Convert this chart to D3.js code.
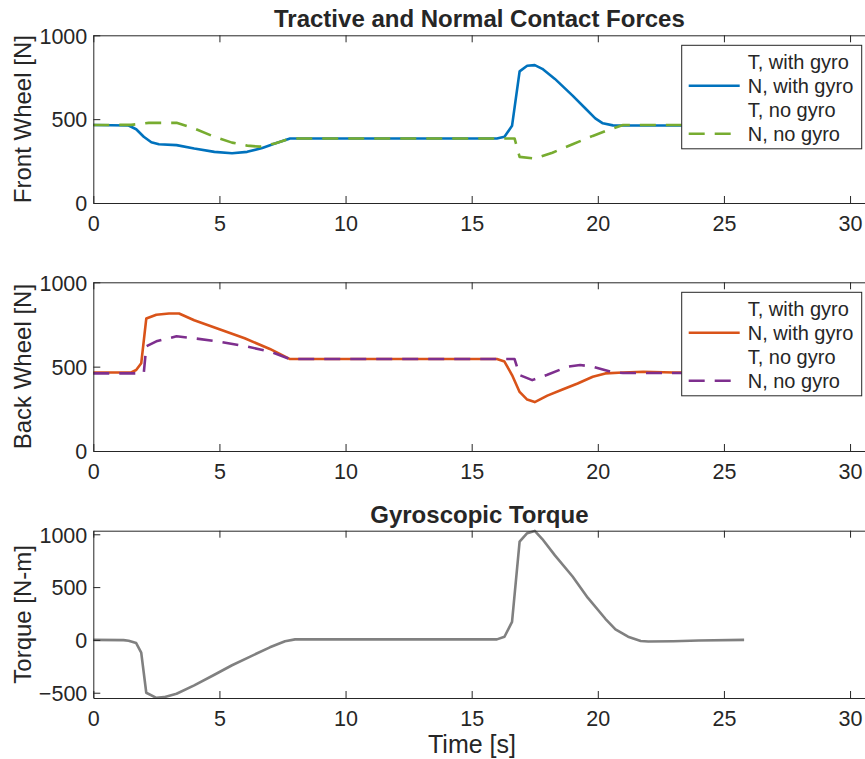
<!DOCTYPE html>
<html>
<head>
<meta charset="utf-8">
<script src="https://cdn.jsdelivr.net/npm/d3@7"></script>
<style>
  body { margin: 0; background: #fff; }
  text { font-family: "Liberation Sans", Arial, sans-serif; fill: #262626; }
</style>
</head>
<body>
<div id="chart"></div>
<script>
// ---- data ----
var xTicks = [0, 5, 10, 15, 20, 25, 30];
var forceTicks = [0, 500, 1000];
var torqueTicks = [-500, 0, 500, 1000];
var legendLabels = ["T, with gyro", "N, with gyro", "T, no gyro", "N, no gyro"];

// front wheel, N with gyro
var tFrontGyro = [0, 1.4, 1.7, 2.0, 2.3, 2.6, 3.3, 4.0, 4.8, 5.5, 6.1, 6.7, 7.2, 7.8, 16.0, 16.3, 16.6, 16.9, 17.2, 17.5, 17.8, 18.3, 19.0, 19.5, 19.9, 20.2, 20.6, 21.5, 23.0, 25.8];
var nFrontGyro = [465, 462, 440, 395, 362, 350, 345, 325, 305, 297, 305, 328, 355, 385, 385, 395, 460, 785, 818, 822, 800, 740, 640, 565, 505, 475, 463, 462, 462, 463];
// front wheel, N no gyro
var tFrontNo = [0, 1.5, 2.2, 3.3, 4.0, 4.8, 5.5, 6.1, 6.6, 7.2, 7.8, 16.7, 16.9, 17.5, 18.2, 19.0, 19.8, 20.5, 21.0, 25.8];
var nFrontNo = [465, 466, 478, 478, 445, 395, 360, 342, 336, 355, 385, 385, 275, 265, 300, 350, 400, 440, 465, 465];
// back wheel, N with gyro
var tBackGyro = [0, 1.5, 1.7, 1.9, 2.1, 2.5, 3.0, 3.4, 4.0, 5.0, 6.0, 7.0, 7.8, 16.0, 16.3, 16.6, 16.9, 17.2, 17.5, 18.0, 18.6, 19.2, 19.8, 20.3, 21.0, 21.8, 23.0, 25.8];
var nBackGyro = [465, 466, 480, 520, 785, 808, 815, 815, 775, 722, 668, 605, 545, 545, 530, 450, 350, 305, 290, 328, 365, 400, 440, 460, 465, 470, 465, 465];
// back wheel, N no gyro
var tBackNo = [0, 2.0, 2.1, 2.5, 3.3, 4.0, 5.0, 6.0, 7.0, 7.8, 16.7, 16.9, 17.4, 18.0, 18.8, 19.3, 19.8, 20.5, 21.0, 25.8];
var nBackNo = [460, 460, 620, 650, 680, 668, 648, 622, 590, 545, 545, 450, 420, 452, 500, 510, 500, 470, 462, 462];
// gyroscopic torque
var tTorque = [0, 1.2, 1.4, 1.7, 1.9, 2.1, 2.5, 2.8, 3.3, 4.0, 4.8, 5.5, 6.2, 7.0, 7.6, 8.0, 16.0, 16.3, 16.6, 16.9, 17.2, 17.5, 17.8, 18.3, 19.0, 19.6, 20.3, 20.7, 21.2, 21.7, 22.0, 23.0, 24.0, 25.8];
var torque = [0, -2, -8, -30, -120, -500, -548, -542, -510, -430, -330, -240, -160, -70, -12, 5, 5, 30, 170, 930, 1010, 1032, 955, 800, 600, 400, 200, 100, 30, -10, -15, -12, -5, 0];

var width = 865, height = 759;
var svg = d3.select("#chart").append("svg")
    .attr("width", width)
    .attr("height", height);

var x = d3.scaleLinear().domain([0, 30.85]).range([93.3, 871.5]);

var panels = [
  {top: 35.3, bottom: 203, domain: [0, 1000], ticks: forceTicks, ylabel: "Front Wheel [N]",
   title: "Tractive and Normal Contact Forces",
   series: [
     {t: tFrontGyro, v: nFrontGyro, color: "#0072BD", dash: null},
     {t: tFrontNo, v: nFrontNo, color: "#77AC30", dash: "16,10"}
   ], legend: true},
  {top: 282.3, bottom: 451, domain: [0, 1000], ticks: forceTicks, ylabel: "Back Wheel [N]",
   series: [
     {t: tBackGyro, v: nBackGyro, color: "#D95319", dash: null},
     {t: tBackNo, v: nBackNo, color: "#7E2F8E", dash: "16,10"}
   ], legend: true},
  {top: 530.7, bottom: 698, domain: [-550, 1034], ticks: torqueTicks, ylabel: "Torque [N-m]",
   title: "Gyroscopic Torque",
   series: [
     {t: tTorque, v: torque, color: "#808080", dash: null}
   ], legend: false}
];

var axisColor = "#262626";
var fontSize = 21.5;

panels.forEach(function(p, pi) {
  var y = d3.scaleLinear().domain(p.domain).range([p.bottom, p.top]);
  var g = svg.append("g");

  // data lines
  var line = d3.line()
      .x(function(d) { return x(d[0]); })
      .y(function(d) { return y(d[1]); });

  p.series.forEach(function(s) {
    g.append("path")
      .datum(d3.zip(s.t, s.v))
      .attr("d", line)
      .attr("fill", "none")
      .attr("stroke", s.color)
      .attr("stroke-width", 2.6)
      .attr("stroke-linejoin", "round")
      .attr("stroke-dasharray", s.dash);
  });

  // bottom axis with inward ticks
  var xAxis = g.append("g")
      .attr("transform", "translate(0," + p.bottom + ")")
      .call(d3.axisBottom(x).tickValues(xTicks).tickSizeInner(-7).tickSizeOuter(0).tickPadding(13).tickFormat(d3.format("d")));
  // top axis ticks
  var xTop = g.append("g")
      .attr("transform", "translate(0," + p.top + ")")
      .call(d3.axisTop(x).tickValues(xTicks).tickSizeInner(-7).tickSizeOuter(0).tickFormat(""));
  // left axis
  var yAxis = g.append("g")
      .attr("transform", "translate(" + x(0) + ",0)")
      .call(d3.axisLeft(y).tickValues(p.ticks).tickSizeInner(-7).tickSizeOuter(0).tickPadding(6).tickFormat(d3.format("d")));

  [xAxis, xTop, yAxis].forEach(function(a) {
    a.selectAll(".domain").attr("stroke", axisColor);
    a.selectAll(".tick line").attr("stroke", axisColor);
    a.selectAll("text")
      .attr("font-family", "Liberation Sans, Arial, sans-serif")
      .attr("font-size", fontSize)
      .attr("fill", axisColor);
  });
  yAxis.selectAll("text").attr("dy", "0.36em");

  // y label
  svg.append("text")
    .attr("transform", "translate(31," + ((p.top + p.bottom) / 2) + ") rotate(-90)")
    .attr("text-anchor", "middle")
    .attr("font-size", 24)
    .text(p.ylabel);

  if (p.title) {
    svg.append("text")
      .attr("x", (x.range()[0] + x.range()[1]) / 2 - 3)
      .attr("y", p.top - 8)
      .attr("text-anchor", "middle")
      .attr("font-size", 24)
      .attr("font-weight", "bold")
      .attr("fill", "#000")
      .text(p.title);
  }

  if (p.legend) {
    var lx = 681.7, ly = p.top + 10, lw = 180, lh = 103.5;
    var leg = svg.append("g");
    leg.append("rect")
      .attr("x", lx).attr("y", ly)
      .attr("width", lw).attr("height", lh)
      .attr("fill", "#fff")
      .attr("stroke", axisColor)
      .attr("stroke-width", 1);
    legendLabels.forEach(function(lab, i) {
      var ry = ly + 16.5 + i * 24;
      if (i === 1 || i === 3) {
        var s = p.series[i === 1 ? 0 : 1];
        leg.append("line")
          .attr("x1", lx + 7).attr("x2", lx + 58)
          .attr("y1", ry).attr("y2", ry)
          .attr("stroke", s.color)
          .attr("stroke-width", 2.6)
          .attr("stroke-dasharray", s.dash);
      }
      leg.append("text")
        .attr("x", lx + 66)
        .attr("y", ry)
        .attr("dy", "0.35em")
        .attr("font-size", 20)
        .attr("fill", "#000")
        .text(lab);
    });
  }
});

// x label
svg.append("text")
  .attr("x", 472)
  .attr("y", 753)
  .attr("text-anchor", "middle")
  .attr("font-size", 25)
  .text("Time [s]");
</script>
</body>
</html>
